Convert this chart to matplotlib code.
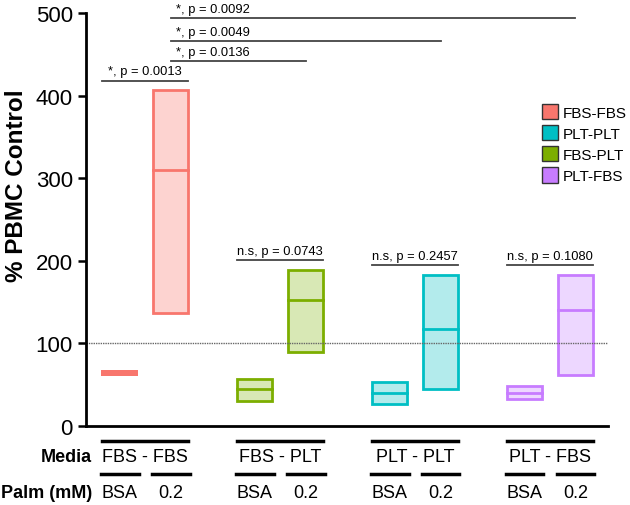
import numpy as np
import matplotlib.pyplot as plt
from matplotlib.patches import Patch

plt.rcParams['font.family'] = ['Liberation Sans', 'DejaVu Sans']

## Data (floating bars: min / mean / max)
groups = ['FBS - FBS', 'FBS - PLT', 'PLT - PLT', 'PLT - FBS']
palm = ['BSA', '0.2']
lows = [[61, 137], [30, 90], [27, 45], [33, 62]]
mids = [[64, 310], [45, 152], [40, 117], [40, 140]]
highs = [[68, 407], [57, 189], [53, 183], [48, 183]]
edge_colors = ['#F8766D', '#7CAE00', '#00BFC4', '#C77CFF']
face_colors = ['#FDD3D0', '#D8E8B5', '#B3EBEC', '#EDD7FF']

legend_names = ['FBS-FBS', 'PLT-PLT', 'FBS-PLT', 'PLT-FBS']
legend_colors = ['#F8766D', '#00BFC4', '#7CAE00', '#C77CFF']

# pairwise within group (label, y)
ns_labels = ['*, p = 0.0013', 'n.s, p = 0.0743', 'n.s, p = 0.2457', 'n.s, p = 0.1080']
ns_y = [418, 201, 195, 195]
# FBS-FBS 0.2 vs 0.2 of other groups
cross_labels = ['*, p = 0.0136', '*, p = 0.0049', '*, p = 0.0092']
cross_y = [442, 466, 494]

off = 0.189
w = 0.26

fig = plt.figure(figsize=(6.3, 5.06), dpi=100)
ax = fig.add_axes([86/630, (506-427)/506, (608-86)/630, (427-14)/506])

for g in range(len(groups)):
    for j in range(2):
        x = g + (-off if j == 0 else off)
        lo, mi, hi = lows[g][j], mids[g][j], highs[g][j]
        if g == 0 and j == 0:
            ax.bar(x, hi - lo, bottom=lo, width=w * 1.05, color=edge_colors[g], linewidth=0)
            continue
        ax.bar(x, hi - lo, bottom=lo, width=w, facecolor=face_colors[g],
               edgecolor=edge_colors[g], linewidth=2)
        ax.plot([x - w/2, x + w/2], [mi, mi], color=edge_colors[g], lw=2)

ax.axhline(100, color='#666666', lw=1, ls=(0, (1, 0.7)))

# within-group brackets
for g in range(len(groups)):
    x0, x1 = g - off - w/2, g + off + w/2
    ax.plot([x0, x1], [ns_y[g], ns_y[g]], color='#444444', lw=1.3, clip_on=False)
    ax.text((x0 + x1)/2, ns_y[g] + 4, ns_labels[g], ha='center', va='bottom', fontsize=9.3)

# between-group brackets
for k in range(len(cross_labels)):
    x0, x1 = 0 + off, k + 1 + off
    ax.plot([x0, x1], [cross_y[k], cross_y[k]], color='#444444', lw=1.3, clip_on=False)
    ax.text(x0 + 0.04, cross_y[k] + 4, cross_labels[k], ha='left', va='bottom',
            fontsize=9.3, clip_on=False)

ax.set_xlim(-0.44, 3.43)
ax.set_ylim(0, 500)
ax.set_yticks([0, 100, 200, 300, 400, 500])
ax.tick_params(axis='y', labelsize=16, width=1.8, length=6)
ax.set_xticks([])
ax.spines['top'].set_visible(False)
ax.spines['right'].set_visible(False)
ax.spines['left'].set_linewidth(2)
ax.spines['bottom'].set_linewidth(2)
ax.set_ylabel('% PBMC Control', fontsize=17.5, fontweight='bold')
ax.yaxis.set_label_coords(-0.112, 0.584)

# table under the axis
tr = ax.get_xaxis_transform()
for g in range(len(groups)):
    x0, x1 = g - off - w/2, g + off + w/2
    ax.plot([x0, x1], [-0.036, -0.036], color='black', lw=2.5, transform=tr, clip_on=False)
    ax.text(g, -0.073, groups[g], transform=tr, ha='center', va='center', fontsize=13)
    for j in range(2):
        x = g + (-off if j == 0 else off)
        ax.plot([x - w/2 - 0.01, x + w/2 + 0.01], [-0.116, -0.116], color='black', lw=2.5,
                transform=tr, clip_on=False)
        ax.text(x, -0.160, palm[j], transform=tr, ha='center', va='center', fontsize=13)
ax.text(-0.395, -0.073, 'Media', transform=tr, ha='right', va='center', fontsize=13, fontweight='bold')
ax.text(-0.395, -0.160, 'Palm (mM)', transform=tr, ha='right', va='center', fontsize=13, fontweight='bold')

handles = [Patch(facecolor=c, edgecolor='#333333', lw=1) for c in legend_colors]
fig.legend(handles, legend_names, loc='upper left', bbox_to_anchor=(536/630, 1 - 99/506),
           frameon=False, fontsize=11, handlelength=1.05, handleheight=1.15,
           handletextpad=0.3, labelspacing=0.35, borderaxespad=0)

fig.savefig('out.png', dpi=100)
